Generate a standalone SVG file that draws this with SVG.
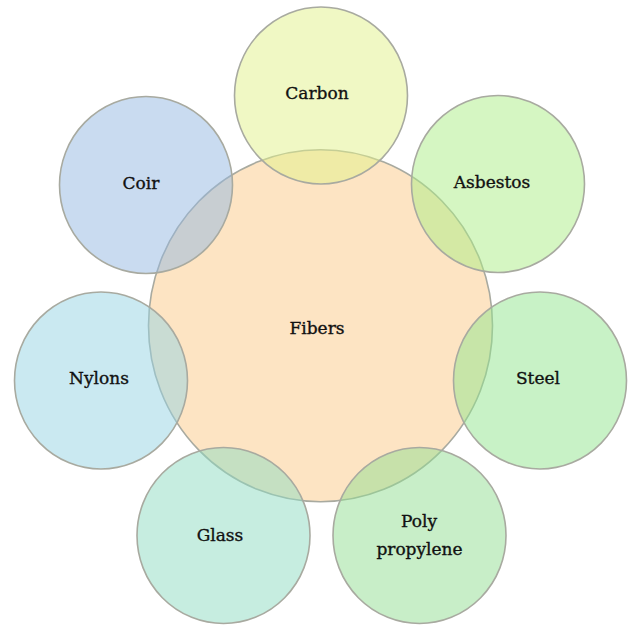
<svg xmlns="http://www.w3.org/2000/svg" width="629" height="625" viewBox="0 0 629 625">
<style>
.c{stroke:#a8aaa0;stroke-width:1.6}
.s{fill-opacity:0.5}
text{font-family:"DejaVu Serif","Liberation Serif",serif;font-size:17px;fill:#111111;stroke:#111111;stroke-width:0.35;text-anchor:middle}
</style>
<rect width="629" height="625" fill="#ffffff"/>
<g id="fibers">
<ellipse class="c" cx="320.5" cy="325.7" rx="172" ry="176" fill="#fde4c3"/>
<text x="317" y="334">Fibers</text>
</g>
<g id="carbon">
<ellipse class="c s" cx="321" cy="95.5" rx="86.5" ry="88.5" fill="#e1f189"/>
<text x="317" y="99">Carbon</text>
</g>
<g id="coir">
<ellipse class="c s" cx="146" cy="185" rx="86.5" ry="88.5" fill="#93b7e1"/>
<text x="141" y="189">Coir</text>
</g>
<g id="asbestos">
<ellipse class="c s" cx="498" cy="184" rx="86.5" ry="88.5" fill="#abed85"/>
<text x="492" y="188">Asbestos</text>
</g>
<g id="nylons">
<ellipse class="c s" cx="101" cy="380.5" rx="86.5" ry="88.5" fill="#95d3e3"/>
<text x="99" y="384">Nylons</text>
</g>
<g id="steel">
<ellipse class="c s" cx="540" cy="380.5" rx="86.5" ry="88.5" fill="#91e58d"/>
<text x="538" y="384">Steel</text>
</g>
<g id="glass">
<ellipse class="c s" cx="223.5" cy="535.5" rx="86.5" ry="88" fill="#8ddbc1"/>
<text x="220" y="541">Glass</text>
</g>
<g id="polypropylene">
<ellipse class="c s" cx="419.5" cy="535.5" rx="86.5" ry="88" fill="#91dd91"/>
<text x="419" y="527">Poly</text>
<text x="419.5" y="555">propylene</text>
</g>
<g id="connectors"/>
</svg>
